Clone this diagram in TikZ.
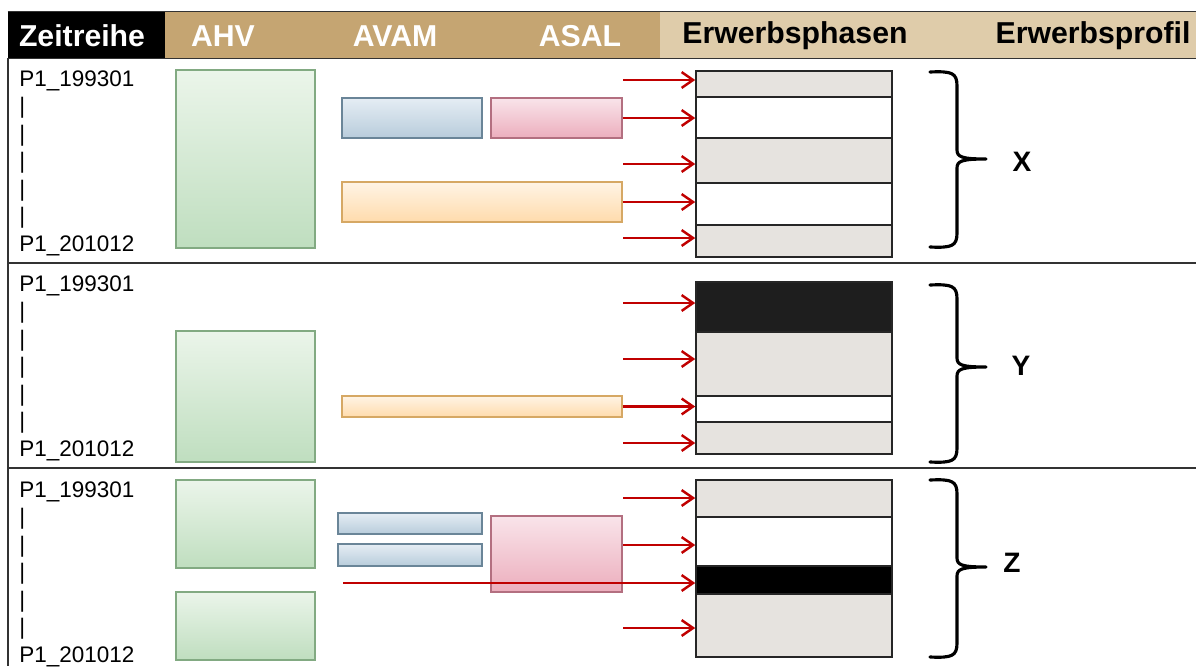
\documentclass[tikz,border=0pt]{standalone}
\usepackage{fontspec}
\setmainfont{Liberation Sans}
\usetikzlibrary{arrows.meta,positioning,fit}

\definecolor{hdgold}{HTML}{C5A572}
\definecolor{hdtan}{HTML}{DFCCAA}
\definecolor{ahvtop}{HTML}{EBF5EA}
\definecolor{ahvbot}{HTML}{BFDEBF}
\definecolor{ahvline}{HTML}{82AA82}
\definecolor{avamtop}{HTML}{E5EDF4}
\definecolor{avambot}{HTML}{B8CCDB}
\definecolor{avamline}{HTML}{6A8598}
\definecolor{asaltop}{HTML}{F9E4EA}
\definecolor{asalbot}{HTML}{ECAEBD}
\definecolor{asalline}{HTML}{B36F80}
\definecolor{langtop}{HTML}{FFF4E5}
\definecolor{langbot}{HTML}{FFDBAC}
\definecolor{langline}{HTML}{D6A864}
\definecolor{seggray}{HTML}{E6E3DF}
\definecolor{segdark}{HTML}{1E1E1E}
\definecolor{arrred}{HTML}{C00000}

\begin{document}
\begin{tikzpicture}[x=0.02cm,y=-0.02cm,
    box/.style={inner sep=0pt, line width=0.7pt},
    ahv/.style={box, draw=ahvline, top color=ahvtop, bottom color=ahvbot},
    avam/.style={box, draw=avamline, top color=avamtop, bottom color=avambot},
    asal/.style={box, draw=asalline, top color=asaltop, bottom color=asalbot},
    lang/.style={box, draw=langline, top color=langtop, bottom color=langbot},
    seg/.style={inner sep=0pt, draw=black!85, line width=0.9pt},
    arr/.style={draw=arrred, line width=1.4pt, -{Straight Barb[length=6.5pt,width=9pt]}},
    rule/.style={draw=black!80, line width=0.8pt},
    hd/.style={font=\bfseries\fontsize{17.2}{19}\selectfont, inner sep=0pt},
    zr/.style={font=\fontsize{12.8}{15.7}\selectfont, align=left, anchor=north west, inner sep=0pt},
    prof/.style={font=\bfseries\fontsize{16}{18}\selectfont, inner sep=0pt}
  ]
  \useasboundingbox (0,0) rectangle (1196,666);

  % table lines
  \draw[rule] (8,58) -- (8,666);
  \draw[rule] (8,263) -- (1196,263);
  \draw[rule] (8,468) -- (1196,468);

  % header
  \node[fit={(8,12) (165,58)}, inner sep=0pt, fill=black] (hZeit) {};
  \node[fit={(165,12) (660,58)}, inner sep=0pt, fill=hdgold] (hQuelle) {};
  \node[fit={(660,12) (1196,58)}, inner sep=0pt, fill=hdtan] (hProfil) {};
  \draw[rule] (hZeit.north west) -- (hProfil.north east);
  \draw[rule] (hZeit.south west) -- (hProfil.south east);
  \node[hd, text=white] (tZeit) at (82,36) {Zeitreihe};
  \node[hd, text=white] (tAHV) at (223,36) {AHV};
  \node[hd, text=white] (tAVAM) at (395,36) {AVAM};
  \node[hd, text=white] (tASAL) at (580,36) {ASAL};
  \node[hd] (tPhasen) at (795,36) {Erwerbsphasen};
  \node[hd] (tProfil) at (1093,36) {Erwerbsprofil};

  % time labels
  \node[zr] (zr1) at (19,70) {P1\_199301\\|\\|\\|\\|\\|\\P1\_201012};
  \node[zr] (zr2) at (19,275) {P1\_199301\\|\\|\\|\\|\\|\\P1\_201012};
  \node[zr] (zr3) at (19,481) {P1\_199301\\|\\|\\|\\|\\|\\P1\_201012};

  % row X
  \node[ahv, fit={(176,70) (315,248)}] (ahv1) {};
  \node[avam, fit={(342,98) (482,138)}] (avam1) {};
  \node[asal, fit={(491,98) (622,138)}] (asal1) {};
  \node[lang, fit={(342,182) (622,222)}] (lang1) {};
  \foreach \n/\a/\b/\c in {p11/71/97/seggray, p12/97/138/white, p13/138/183/seggray,
                           p14/183/225/white, p15/225/257/seggray}
    \node[seg, fill=\c, fit={(696,\a) (892,\b)}] (\n) {};
  \coordinate (q11) at (623,80);
  \coordinate (q13) at (623,164);
  \coordinate (q15) at (623,238);
  \draw[arr] (q11) -- (q11 -| p11.west);
  \draw[arr] (asal1.east) -- (asal1.east -| p12.west);
  \draw[arr] (q13) -- (q13 -| p13.west);
  \draw[arr] (lang1.east) -- (lang1.east -| p14.west);
  \draw[arr] (q15) -- (q15 -| p15.west);

  % row Y
  \node[ahv, fit={(176,331) (315,462)}] (ahv2) {};
  \node[lang, fit={(342,396) (622,417)}] (lang2) {};
  \foreach \n/\a/\b/\c in {p21/282/332/segdark, p22/332/396/seggray,
                           p23/396/422/white, p24/422/454/seggray}
    \node[seg, fill=\c, fit={(696,\a) (892,\b)}] (\n) {};
  \coordinate (q21) at (623,303);
  \coordinate (q22) at (623,359);
  \coordinate (q24) at (623,443);
  \draw[arr] (q21) -- (q21 -| p21.west);
  \draw[arr] (q22) -- (q22 -| p22.west);
  \draw[arr] (lang2.east) -- (lang2.east -| p23.west);
  \draw[arr] (q24) -- (q24 -| p24.west);

  % row Z
  \node[ahv, fit={(176,480) (315,568)}] (ahv3a) {};
  \node[ahv, fit={(176,592) (315,660)}] (ahv3b) {};
  \node[avam, fit={(338,513) (482,534)}] (avam3a) {};
  \node[avam, fit={(338,544) (482,566)}] (avam3b) {};
  \node[asal, fit={(491,516) (622,592)}] (asal3) {};
  \foreach \n/\a/\b/\c in {p31/480/517/seggray, p32/517/566/white,
                           p33/566/594/black, p34/594/657/seggray}
    \node[seg, fill=\c, fit={(696,\a) (892,\b)}] (\n) {};
  \coordinate (q31) at (623,498);
  \coordinate (q32) at (623,545);
  \coordinate (q33) at (343,583);
  \coordinate (q34) at (623,628);
  \draw[arr] (q31) -- (q31 -| p31.west);
  \draw[arr] (q32) -- (q32 -| p32.west);
  \draw[arr] (q33) -- (q33 -| p33.west);
  \draw[arr] (q34) -- (q34 -| p34.west);

  % braces
  \foreach \t/\m/\b in {72/159/247, 285/367/462, 480/567/657}
    \draw[line width=1.8pt, line cap=round, line join=round]
      (930,\t) .. controls (952,\t-1) and (957,\t+1) .. (957,\t+14)
      -- (957,\m-9) .. controls (957,\m-2) and (962,\m) .. (986,\m)
      (986,\m) .. controls (962,\m) and (957,\m+2) .. (957,\m+9)
      -- (957,\b-14) .. controls (957,\b-1) and (952,\b+1) .. (930,\b);
  \node[prof] (pX) at (1022,162) {X};
  \node[prof] (pY) at (1021,366) {Y};
  \node[prof] (pZ) at (1012,563) {Z};
\end{tikzpicture}
\end{document}
